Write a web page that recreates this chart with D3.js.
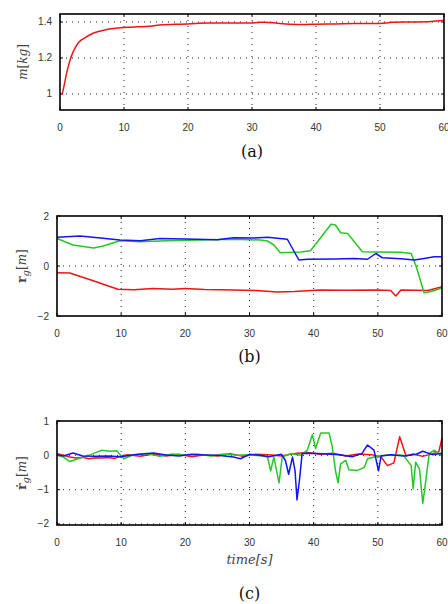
<!DOCTYPE html>
<html>
<head>
<meta charset="utf-8">
<script src="https://cdn.jsdelivr.net/npm/d3@7"></script>
<style>
  body { margin: 0; background: #fff; }
  svg { display: block; }
</style>
</head>
<body>
<div id="chart"></div>
<script>
// ---- data ----
const xTicks = [0, 10, 20, 30, 40, 50, 60];

// (a) estimated mass
const massT = [0, 0.3, 0.6, 1.0, 1.5, 2.0, 2.5, 3.0, 4.0, 5.0, 6.0, 7.0, 8.0, 9.0, 10, 12, 14, 16, 18, 20, 23, 26, 29, 31, 32, 34, 36, 38, 40, 43, 46, 49, 50, 52, 55, 58, 60];
const massV = [1.0, 1.0, 1.04, 1.11, 1.18, 1.23, 1.265, 1.29, 1.315, 1.335, 1.347, 1.356, 1.362, 1.366, 1.369, 1.373, 1.376, 1.385, 1.387, 1.389, 1.394, 1.394, 1.395, 1.397, 1.399, 1.393, 1.388, 1.386, 1.388, 1.389, 1.391, 1.391, 1.392, 1.398, 1.4, 1.403, 1.41];
const massTicks = [1, 1.2, 1.4];

// (b) r_g components
const rgRedT = [0, 2, 4, 6, 8, 9.5, 12, 15, 18, 20, 23, 27.5, 31, 34.3, 37, 41, 45, 50, 52, 52.8, 53.6, 57.8, 60];
const rgRedV = [-0.27, -0.28, -0.45, -0.62, -0.8, -0.93, -0.95, -0.9, -0.93, -0.9, -0.94, -0.96, -0.98, -1.04, -1.02, -0.96, -0.97, -0.96, -0.98, -1.2, -0.96, -0.98, -0.83];
const rgGreenT = [0, 2.5, 5.7, 7.2, 9.8, 13, 17, 22, 27.5, 31.7, 32.8, 33.8, 34.8, 38, 39.5, 40.6, 42.7, 43.4, 44.2, 45.3, 47.6, 50, 53.6, 55.2, 56, 57.2, 58.3, 60];
const rgGreenV = [1.1, 0.84, 0.72, 0.8, 1.01, 0.97, 1.01, 1.04, 1.07, 1.04, 1.0, 0.84, 0.53, 0.56, 0.61, 0.97, 1.67, 1.64, 1.33, 1.3, 0.57, 0.56, 0.55, 0.5, -0.03, -1.07, -1.02, -0.88];
const rgBlueT = [0, 3.6, 6, 9.8, 13, 16, 20, 25, 27.5, 30.7, 32.8, 35.9, 36.7, 37.7, 39, 43.2, 46.3, 48.4, 49.7, 50.7, 53.6, 55.7, 57.2, 58.8, 60];
const rgBlueV = [1.15, 1.2, 1.14, 1.04, 1.01, 1.1, 1.08, 1.05, 1.13, 1.12, 1.15, 1.07, 0.7, 0.24, 0.27, 0.28, 0.3, 0.27, 0.5, 0.33, 0.29, 0.24, 0.3, 0.37, 0.37];
const rgTicks = [-2, 0, 2];

// (c) r_g rates
const vRedT = [0, 1, 2, 3, 4, 5, 6, 7, 8, 9, 10, 11, 13, 15, 17, 19, 21, 23, 25, 27, 29, 31, 33, 35, 37, 39, 41, 43, 45, 47, 49, 50.5, 51.5, 52.5, 53.4, 54.4, 55.5, 57, 58.5, 59.5, 60];
const vRedV = [0.05, 0, -0.05, -0.08, -0.06, -0.1, -0.07, -0.08, -0.06, -0.09, -0.02, 0.02, -0.03, 0.04, -0.02, 0.03, -0.04, 0.02, -0.02, 0.05, -0.03, 0.03, 0.02, -0.02, 0.05, 0.08, 0.03, 0.06, -0.02, 0.04, 0.02, -0.05, -0.3, -0.22, 0.54, -0.02, 0.04, -0.03, 0.05, 0.1, 0.5];
const vGreenT = [0, 1, 2, 3, 4, 5, 6, 7, 8.3, 9.3, 10.4, 12, 14, 16, 18, 20, 22, 24, 26, 28, 30, 32, 32.8, 33.3, 33.8, 34.6, 35.1, 36.4, 38, 39, 39.8, 40.3, 41.1, 42.4, 42.9, 43.4, 43.8, 44.2, 45, 45.5, 46.8, 47.9, 48.4, 50, 52, 54, 55.2, 55.5, 55.9, 56.5, 57, 57.3, 58, 58.8, 59.8, 60];
const vGreenV = [0, -0.05, -0.18, -0.12, -0.05, 0, 0.08, 0.15, 0.12, 0.13, -0.1, 0.02, 0.05, -0.03, 0.04, 0, 0.03, -0.02, 0.04, 0, 0.02, -0.02, -0.05, -0.45, -0.05, -0.8, -0.05, 0.05, 0, 0.15, 0.6, 0.2, 0.65, 0.65, 0.25, -0.45, -0.8, -0.25, -0.15, -0.42, -0.44, -0.35, -0.1, -0.02, 0.02, 0, -0.3, -0.97, -0.2, -0.4, -1.4, -1.0, 0.05, 0.15, 0, 0.05];
const vBlueT = [0, 1, 2.5, 4, 6, 8, 10, 12, 15, 17, 19, 21, 23, 25, 27.5, 28.6, 30, 31.7, 33, 35, 35.6, 36.1, 36.7, 37.1, 37.4, 37.8, 38.2, 40, 42, 44, 46, 47.5, 48.4, 49.4, 50.1, 50.5, 52, 54, 56, 57, 58.5, 60];
const vBlueV = [0.02, -0.02, 0.07, -0.02, -0.03, -0.02, -0.04, 0.02, 0.07, 0.01, -0.02, 0.03, 0.01, 0, -0.05, -0.1, 0.03, 0, -0.04, 0.03, -0.15, -0.55, -0.05, -0.45, -1.3, -0.7, 0.05, 0.06, 0.04, 0.02, -0.04, 0.05, 0.3, 0.15, -0.45, -0.02, 0.02, -0.02, 0.03, 0.12, 0.02, 0.06];
const vTicks = [-2, -1, 0, 1];

const RED = "#f01414", GREEN = "#26c826", BLUE = "#1414f0";

// ---- drawing ----
const W = 448, H = 604;
const svg = d3.select("#chart").append("svg")
  .attr("width", W).attr("height", H)
  .style("background", "#fff");

const fmt = v => String(v).replace("-", "\u2212");
const zip = (t, v) => t.map((d, i) => [d, v[i]]);

function panel(cfg) {
  const x = d3.scaleLinear().domain([0, 60]).range([cfg.left, cfg.right]);
  const y = d3.scaleLinear().domain(cfg.yDomain).range([cfg.bottom, cfg.top]);
  const g = svg.append("g");

  // dotted grid
  g.selectAll(".gx").data(xTicks.slice(1, -1)).join("line")
    .attr("x1", d => x(d)).attr("x2", d => x(d))
    .attr("y1", cfg.top).attr("y2", cfg.bottom)
    .attr("stroke", "#222").attr("stroke-width", 1)
    .attr("stroke-dasharray", "1,5");
  g.selectAll(".gy").data(cfg.yTicks.filter(d => y(d) > cfg.top + 1 && y(d) < cfg.bottom - 1)).join("line")
    .attr("x1", cfg.left).attr("x2", cfg.right)
    .attr("y1", d => y(d)).attr("y2", d => y(d))
    .attr("stroke", "#222").attr("stroke-width", 1)
    .attr("stroke-dasharray", "1,5");

  // inward ticks on all four sides
  const tk = 3;
  xTicks.forEach(d => {
    g.append("line").attr("x1", x(d)).attr("x2", x(d)).attr("y1", cfg.bottom).attr("y2", cfg.bottom - tk).attr("stroke", "#000");
    g.append("line").attr("x1", x(d)).attr("x2", x(d)).attr("y1", cfg.top).attr("y2", cfg.top + tk).attr("stroke", "#000");
  });
  cfg.yTicks.forEach(d => {
    g.append("line").attr("x1", cfg.left).attr("x2", cfg.left + tk).attr("y1", y(d)).attr("y2", y(d)).attr("stroke", "#000");
    g.append("line").attr("x1", cfg.right).attr("x2", cfg.right - tk).attr("y1", y(d)).attr("y2", y(d)).attr("stroke", "#000");
  });

  // series
  const line = d3.line().x(d => x(d[0])).y(d => y(d[1])).curve(cfg.curve || d3.curveLinear);
  cfg.series.forEach(s => {
    g.append("path").datum(zip(s.t, s.v))
      .attr("fill", "none").attr("stroke", s.color)
      .attr("stroke-width", 1.5).attr("stroke-linejoin", "round")
      .attr("d", line);
  });

  // frame
  g.append("rect")
    .attr("x", cfg.left).attr("y", cfg.top)
    .attr("width", cfg.right - cfg.left).attr("height", cfg.bottom - cfg.top)
    .attr("fill", "none").attr("stroke", "#000").attr("stroke-width", 1.6);

  // tick labels
  g.selectAll(".xl").data(xTicks).join("text")
    .attr("x", d => x(d)).attr("y", cfg.bottom + 21)
    .attr("text-anchor", "middle")
    .style("font-family", "'Liberation Sans', Arial, sans-serif")
    .style("font-size", "10px").style("fill", "#333")
    .text(d => d);
  g.selectAll(".yl").data(cfg.yTicks).join("text")
    .attr("x", cfg.left - 8).attr("y", d => y(d) + 3.5)
    .attr("text-anchor", "end")
    .style("font-family", "'Liberation Sans', Arial, sans-serif")
    .style("font-size", "10px").style("fill", "#333")
    .text(d => fmt(d));

  // y label
  const yl = g.append("text")
    .attr("transform", `translate(${cfg.yLabelX},${(cfg.top + cfg.bottom) / 2}) rotate(-90)`)
    .attr("text-anchor", "middle")
    .style("font-family", "'DejaVu Serif', 'Liberation Serif', serif")
    .style("font-size", "12px").style("fill", "#444");
  cfg.yLabel(yl);

  // caption
  svg.append("text")
    .attr("x", (cfg.left + cfg.right) / 2).attr("y", cfg.captionY)
    .attr("text-anchor", "middle")
    .style("font-family", "'DejaVu Serif', 'Liberation Serif', serif")
    .style("font-size", "16px").style("fill", "#111")
    .text(cfg.caption);
  return { x, y };
}

panel({
  left: 60, right: 444, top: 14, bottom: 110,
  yDomain: [0.9111, 1.4444], yTicks: massTicks,
  curve: d3.curveMonotoneX,
  series: [{ t: massT, v: massV, color: RED }],
  yLabelX: 27,
  yLabel: t => {
    t.append("tspan").style("font-style", "italic").text("m");
    t.append("tspan").text("[");
    t.append("tspan").style("font-style", "italic").text("kg");
    t.append("tspan").text("]");
  },
  captionY: 157, caption: "(a)"
});

panel({
  left: 57, right: 442, top: 216, bottom: 316,
  yDomain: [-2, 2], yTicks: rgTicks,
  series: [
    { t: rgRedT, v: rgRedV, color: RED },
    { t: rgGreenT, v: rgGreenV, color: GREEN },
    { t: rgBlueT, v: rgBlueV, color: BLUE }
  ],
  yLabelX: 26,
  yLabel: t => {
    t.append("tspan").style("font-weight", "bold").text("r");
    t.append("tspan").style("font-style", "italic").attr("dy", 3).style("font-size", "10px").text("g");
    t.append("tspan").attr("dy", -3).text("[");
    t.append("tspan").style("font-style", "italic").text("m");
    t.append("tspan").text("]");
  },
  captionY: 362, caption: "(b)"
});

panel({
  left: 57, right: 442, top: 421, bottom: 525,
  yDomain: [-2.0294, 1], yTicks: vTicks,
  series: [
    { t: vRedT, v: vRedV, color: RED },
    { t: vGreenT, v: vGreenV, color: GREEN },
    { t: vBlueT, v: vBlueV, color: BLUE }
  ],
  yLabelX: 26,
  yLabel: t => {
    t.append("tspan").style("font-weight", "bold").text("\u1E59");
    t.append("tspan").style("font-style", "italic").attr("dy", 3).style("font-size", "10px").text("g");
    t.append("tspan").attr("dy", -3).text("[");
    t.append("tspan").style("font-style", "italic").text("m");
    t.append("tspan").text("]");
  },
  captionY: 599, caption: "(c)"
});

// x axis title of the last panel
svg.append("text")
  .attr("x", (57 + 442) / 2).attr("y", 564)
  .attr("text-anchor", "middle")
  .style("font-family", "'DejaVu Serif', 'Liberation Serif', serif")
  .style("font-size", "13px").style("font-style", "italic").style("fill", "#444")
  .text("time[s]");
</script>
</body>
</html>
